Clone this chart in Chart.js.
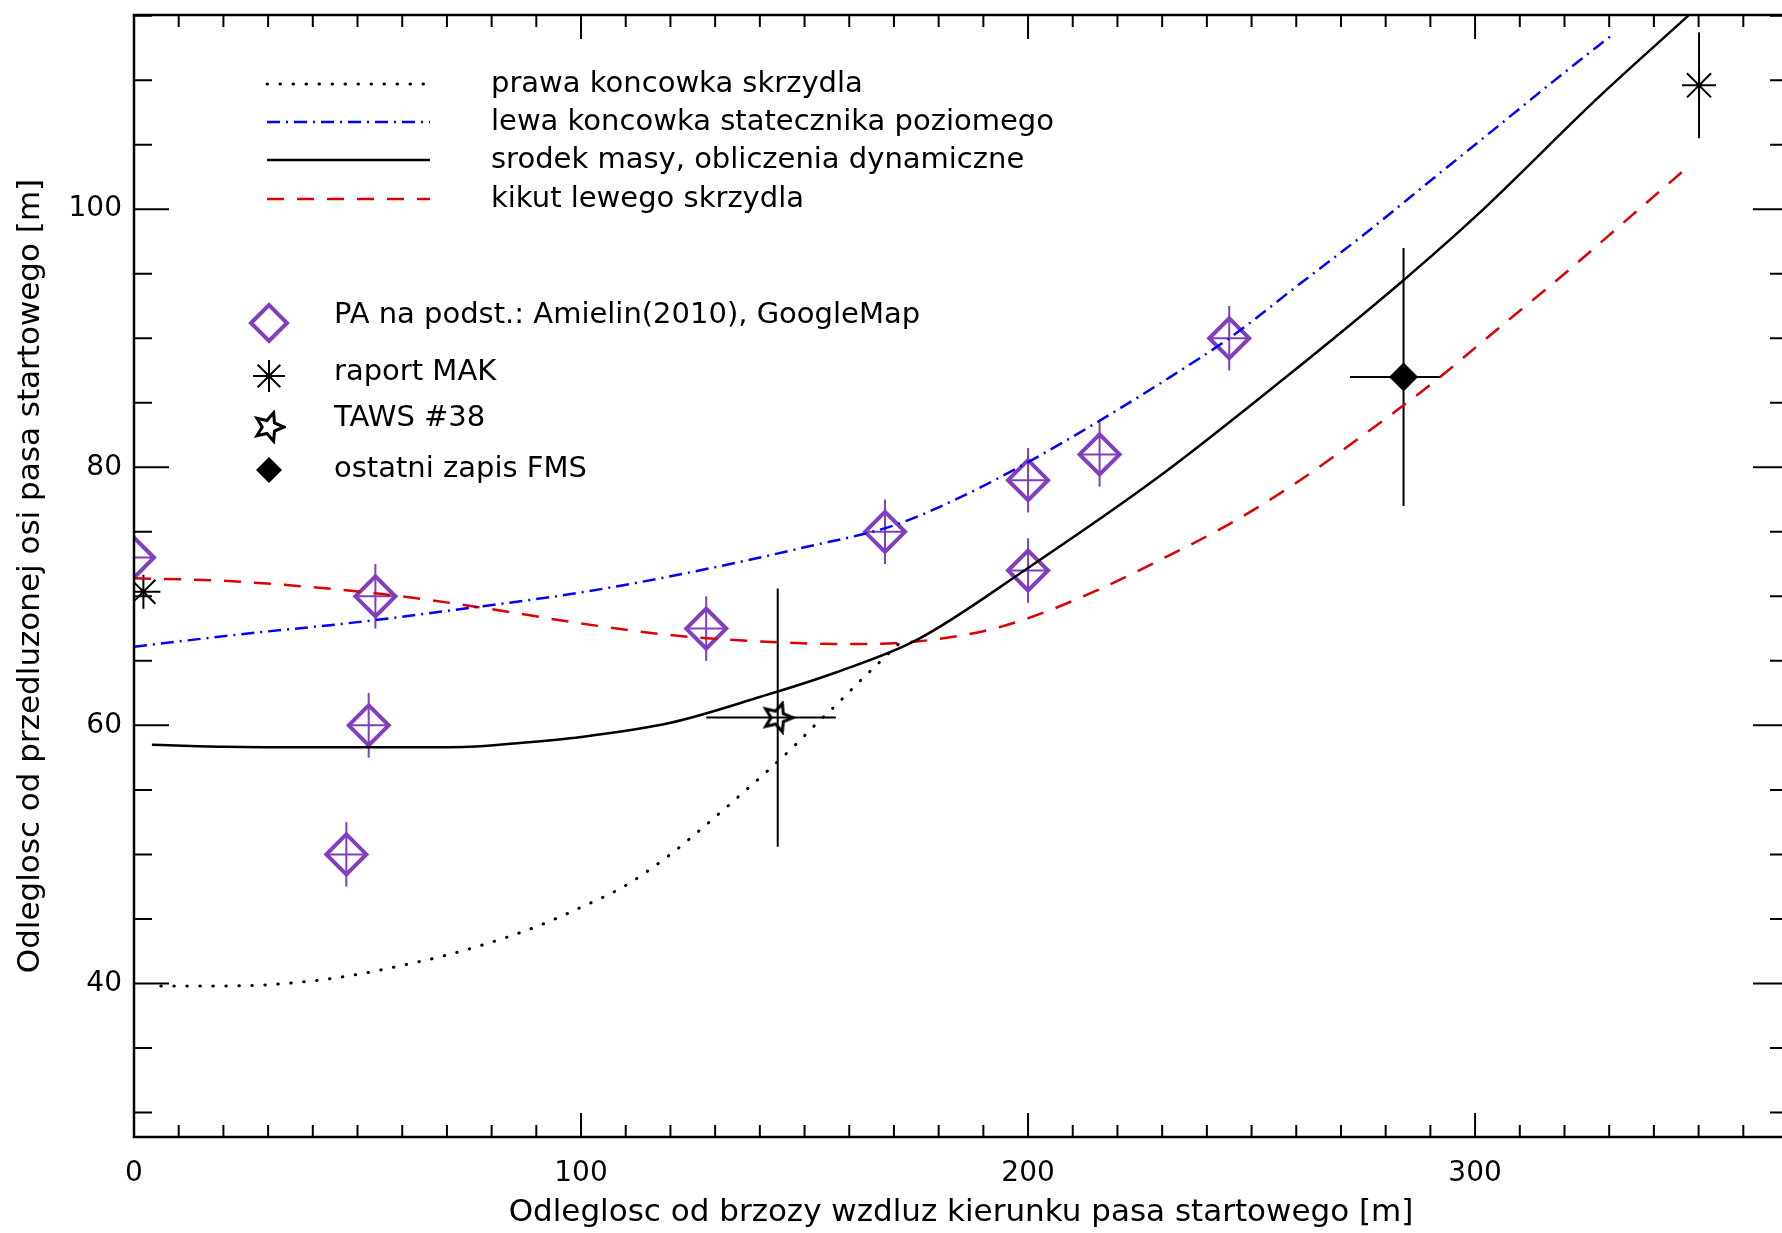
<!DOCTYPE html>
<html>
<head>
<meta charset="utf-8">
<title>Odleglosc od przedluzonej osi pasa startowego</title>
<script src="https://cdn.jsdelivr.net/npm/chart.js@4.4.0/dist/chart.umd.min.js"></script>
<style>
  html, body { margin: 0; padding: 0; background: #fff; overflow: hidden; }
  #wrap { width: 1782px; height: 1233px; overflow: hidden; }
  canvas { display: block; }
</style>
</head>
<body>
<div id="wrap"><canvas id="chart" width="1800" height="1233"></canvas></div>
<script>
// ---- data ----
// curves
const rightTipX = [6, 20, 30, 40, 50, 60, 70, 80, 90, 100, 110, 120, 127, 134, 141.5, 148, 152, 158, 162, 166.5, 171];
const rightTipY = [39.8, 39.8, 39.9, 40.2, 40.7, 41.4, 42.2, 43.2, 44.4, 45.9, 47.6, 50.0, 52.0, 54.1, 56.4, 58.5, 59.9, 61.9, 63.3, 64.8, 66.3];

const stabX = [0, 25, 50, 75, 100, 125, 150, 170, 185, 200, 215, 230, 245, 260, 275, 290, 305, 320, 331];
const stabY = [66.1, 67.1, 68.0, 69.1, 70.3, 71.9, 73.8, 75.5, 77.7, 80.4, 83.4, 86.6, 90.0, 94.0, 98.0, 102.2, 106.4, 110.6, 113.6];

const cmX = [4, 20, 40, 60, 75, 85, 100, 120, 140, 157, 175, 200, 229, 257, 284, 300, 328, 347.7];
const cmY = [58.5, 58.35, 58.3, 58.3, 58.35, 58.6, 59.1, 60.2, 62.2, 64.1, 66.6, 72.2, 79.2, 86.8, 94.5, 99.4, 108.8, 115.0];

const stumpX = [0, 20, 40, 60, 80, 100, 120, 140, 160, 175, 190, 200, 215, 230, 245, 260, 275, 290, 305, 320, 335, 348];
const stumpY = [71.4, 71.2, 70.7, 70.0, 69.0, 67.9, 67.0, 66.5, 66.3, 66.5, 67.3, 68.3, 70.4, 72.9, 75.6, 78.8, 82.5, 86.4, 90.7, 95.0, 99.5, 103.4];

// PA na podst.: Amielin(2010), GoogleMap
const paX = [0, 54, 52.5, 47.5, 128, 168, 200, 200, 216, 245];
const paY = [73, 70, 60, 50, 67.5, 75, 79, 72, 81, 90];
const paXErr = [4, 4, 4, 4, 4, 4, 4, 4, 4, 4];
const paYErr = [2.5, 2.5, 2.5, 2.5, 2.5, 2.5, 2.5, 2.5, 2.5, 2.5];

// raport MAK
const makX = [2.1, 350.1];
const makY = [70.35, 109.6];
const makYErr = [0, 4.1];

// TAWS #38
const tawsX = [144];
const tawsY = [60.6];
const tawsXLo = [128], tawsXHi = [157];
const tawsYLo = [50.6], tawsYHi = [70.6];

// ostatni zapis FMS
const fmsX = [284];
const fmsY = [87];
const fmsXLo = [272], fmsXHi = [292.2];
const fmsYLo = [77], fmsYHi = [97];

const xTicks = [0, 100, 200, 300];
const yTicks = [40, 60, 80, 100];

const xTitle = 'Odleglosc od brzozy wzdluz kierunku pasa startowego [m]';
const yTitle = 'Odleglosc od przedluzonej osi pasa startowego [m]';

const PURPLE = '#7f3fbf';
const FONT = '"DejaVu Sans", sans-serif';

function pts(xs, ys) { return xs.map((x, i) => ({ x: x, y: ys[i] })); }

// TAWS marker: star outline with a tip pointing right
function tawsImage(size) {
    const c = document.createElement('canvas');
    c.width = c.height = size;
    const g = c.getContext('2d');
    const cx = size / 2, cy = size / 2, ro = size * 0.44, ri = size * 0.2;
    g.strokeStyle = '#000';
    g.lineWidth = 3;
    g.beginPath();
    for (let i = 0; i < 10; i++) {
        const a = i * Math.PI / 5;
        const r = i % 2 ? ri : ro;
        g.lineTo(cx + r * Math.cos(a), cy + r * Math.sin(a));
    }
    g.closePath();
    g.stroke();
    return c;
}
const tawsImg = tawsImage(34);

// error bars, drawn under the markers
const errorBars = {
    id: 'errorBars',
    beforeDatasetsDraw(chart) {
        const ctx = chart.ctx, xs = chart.scales.x, ys = chart.scales.y, a = chart.chartArea;
        ctx.save();
        ctx.beginPath();
        ctx.rect(a.left, a.top, a.right - a.left, a.bottom - a.top);
        ctx.clip();
        function seg(x1, y1, x2, y2) {
            ctx.beginPath();
            ctx.moveTo(xs.getPixelForValue(x1), ys.getPixelForValue(y1));
            ctx.lineTo(xs.getPixelForValue(x2), ys.getPixelForValue(y2));
            ctx.stroke();
        }
        ctx.lineWidth = 2;
        ctx.strokeStyle = PURPLE;
        paX.forEach((x, i) => {
            seg(x, paY[i] - paYErr[i], x, paY[i] + paYErr[i]);
            seg(x - paXErr[i], paY[i], x + paXErr[i], paY[i]);
        });
        ctx.strokeStyle = '#000';
        makX.forEach((x, i) => {
            if (makYErr[i] > 0) seg(x, makY[i] - makYErr[i], x, makY[i] + makYErr[i]);
        });
        tawsX.forEach((x, i) => {
            seg(x, tawsYLo[i], x, tawsYHi[i]);
            seg(tawsXLo[i], tawsY[i], tawsXHi[i], tawsY[i]);
        });
        fmsX.forEach((x, i) => {
            seg(x, fmsYLo[i], x, fmsYHi[i]);
            seg(fmsXLo[i], fmsY[i], fmsXHi[i], fmsY[i]);
        });
        ctx.restore();
    }
};

// box, inward ticks and the legend
const frame = {
    id: 'frame',
    afterDraw(chart) {
        const ctx = chart.ctx, xs = chart.scales.x, ys = chart.scales.y, a = chart.chartArea;
        ctx.save();
        ctx.strokeStyle = '#000';
        ctx.lineWidth = 2.5;
        ctx.strokeRect(a.left, a.top, a.right - a.left, a.bottom - a.top);

        ctx.lineWidth = 2;
        ctx.beginPath();
        for (let v = 0; v <= xs.max; v += 10) {
            const px = xs.getPixelForValue(v);
            const len = v % 100 === 0 ? 24 : 12;
            ctx.moveTo(px, a.bottom); ctx.lineTo(px, a.bottom - len);
            ctx.moveTo(px, a.top); ctx.lineTo(px, a.top + len);
        }
        for (let v = 30; v <= ys.max; v += 5) {
            const py = ys.getPixelForValue(v);
            const len = v % 20 === 0 ? 35 : 18;
            ctx.moveTo(a.left, py); ctx.lineTo(a.left + len, py);
            ctx.moveTo(a.right, py); ctx.lineTo(a.right - len, py);
        }
        ctx.stroke();

        // legend: lines
        const ds = chart.data.datasets;
        ctx.font = '29px ' + FONT;
        ctx.fillStyle = '#000';
        ctx.textBaseline = 'middle';
        const lineRows = [84, 122, 160, 199];
        [0, 1, 2, 3].forEach((k, r) => {
            const d = ds[k];
            ctx.save();
            ctx.strokeStyle = d.borderColor;
            ctx.lineWidth = d.borderWidth;
            ctx.setLineDash(d.borderDash || []);
            ctx.lineCap = d.borderCapStyle || 'butt';
            ctx.beginPath();
            ctx.moveTo(267, lineRows[r]);
            ctx.lineTo(430, lineRows[r]);
            ctx.stroke();
            ctx.restore();
            ctx.fillText(d.label, 491, lineRows[r]);
        });

        // legend: symbols
        const sx = 269;
        // diamond
        ctx.save();
        ctx.strokeStyle = PURPLE;
        ctx.lineWidth = 4;
        ctx.beginPath();
        ctx.moveTo(sx - 18, 323); ctx.lineTo(sx, 305); ctx.lineTo(sx + 18, 323); ctx.lineTo(sx, 341);
        ctx.closePath();
        ctx.stroke();
        ctx.restore();
        ctx.fillText(ds[4].label, 334, 315);
        // asterisk
        ctx.save();
        ctx.lineWidth = 2;
        ctx.beginPath();
        for (let k = 0; k < 4; k++) {
            const an = k * Math.PI / 4, r = 16;
            ctx.moveTo(sx - r * Math.cos(an), 376 - r * Math.sin(an));
            ctx.lineTo(sx + r * Math.cos(an), 376 + r * Math.sin(an));
        }
        ctx.stroke();
        ctx.beginPath(); ctx.arc(sx, 376, 3, 0, 2 * Math.PI); ctx.fill();
        ctx.restore();
        ctx.fillText(ds[5].label, 334, 372);
        // TAWS
        ctx.drawImage(tawsImg, sx - tawsImg.width / 2, 427 - tawsImg.height / 2);
        ctx.fillText(ds[6].label, 334, 418);
        // FMS
        ctx.beginPath();
        ctx.moveTo(sx - 13, 470); ctx.lineTo(sx, 457); ctx.lineTo(sx + 13, 470); ctx.lineTo(sx, 483);
        ctx.closePath();
        ctx.fill();
        ctx.fillText(ds[7].label, 334, 469);
        ctx.restore();
    }
};

const lineBase = { showLine: true, pointRadius: 0, fill: false, cubicInterpolationMode: 'monotone', clip: 0 };

new Chart(document.getElementById('chart'), {
    type: 'scatter',
    data: {
        datasets: [
            Object.assign({}, lineBase, {
                label: 'prawa koncowka skrzydla', data: pts(rightTipX, rightTipY),
                borderColor: '#000', borderWidth: 3, borderDash: [0.5, 12.5], borderCapStyle: 'round'
            }),
            Object.assign({}, lineBase, {
                label: 'lewa koncowka statecznika poziomego', data: pts(stabX, stabY),
                borderColor: '#0000ff', borderWidth: 2.5, borderDash: [13, 6, 2, 6]
            }),
            Object.assign({}, lineBase, {
                label: 'srodek masy, obliczenia dynamiczne', data: pts(cmX, cmY),
                borderColor: '#000', borderWidth: 2.5
            }),
            Object.assign({}, lineBase, {
                label: 'kikut lewego skrzydla', data: pts(stumpX, stumpY),
                borderColor: '#dd0000', borderWidth: 2.5, borderDash: [17, 13]
            }),
            {
                label: 'PA na podst.: Amielin(2010), GoogleMap', data: pts(paX, paY),
                pointStyle: 'rectRot', pointRadius: 20, pointBorderWidth: 4,
                pointBorderColor: PURPLE, pointBackgroundColor: 'rgba(0,0,0,0)', clip: 0
            },
            {
                label: 'raport MAK', data: pts(makX, makY),
                pointStyle: 'star', pointRadius: 17, pointBorderWidth: 2,
                pointBorderColor: '#000', pointBackgroundColor: '#000', clip: 0
            },
            {
                label: 'TAWS #38', data: pts(tawsX, tawsY),
                pointStyle: tawsImg, pointRadius: 17, clip: 0
            },
            {
                label: 'ostatni zapis FMS', data: pts(fmsX, fmsY),
                pointStyle: 'rectRot', pointRadius: 14, pointBorderWidth: 1,
                pointBorderColor: '#000', pointBackgroundColor: '#000', clip: 0
            }
        ]
    },
    options: {
        responsive: false,
        animation: false,
        events: [],
        layout: { autoPadding: false, padding: { left: 0, right: 12, top: 15, bottom: 0 } },
        plugins: { legend: { display: false }, tooltip: { enabled: false } },
        scales: {
            x: {
                type: 'linear', min: 0, max: 370,
                grid: { display: false, drawTicks: false },
                border: { display: false },
                ticks: { color: '#000', font: { family: FONT, size: 28 }, padding: 20, maxRotation: 0 },
                afterBuildTicks: s => { s.ticks = xTicks.map(v => ({ value: v })); },
                afterFit: s => { s.height = 96; s.paddingLeft = 0; s.paddingRight = 0; },
                title: { display: true, text: xTitle, color: '#000', font: { family: FONT, size: 31 }, padding: { top: 0, bottom: 1 } }
            },
            y: {
                type: 'linear', min: 28.1, max: 115.05,
                grid: { display: false, drawTicks: false },
                border: { display: false },
                ticks: { color: '#000', font: { family: FONT, size: 28 }, padding: 12 },
                afterBuildTicks: s => { s.ticks = yTicks.map(v => ({ value: v })); },
                afterFit: s => { s.width = 134; s.paddingTop = 0; s.paddingBottom = 0; },
                title: { display: true, text: yTitle, color: '#000', font: { family: FONT, size: 31 }, padding: { top: 12, bottom: 0 } }
            }
        }
    },
    plugins: [errorBars, frame]
});
</script>
</body>
</html>
